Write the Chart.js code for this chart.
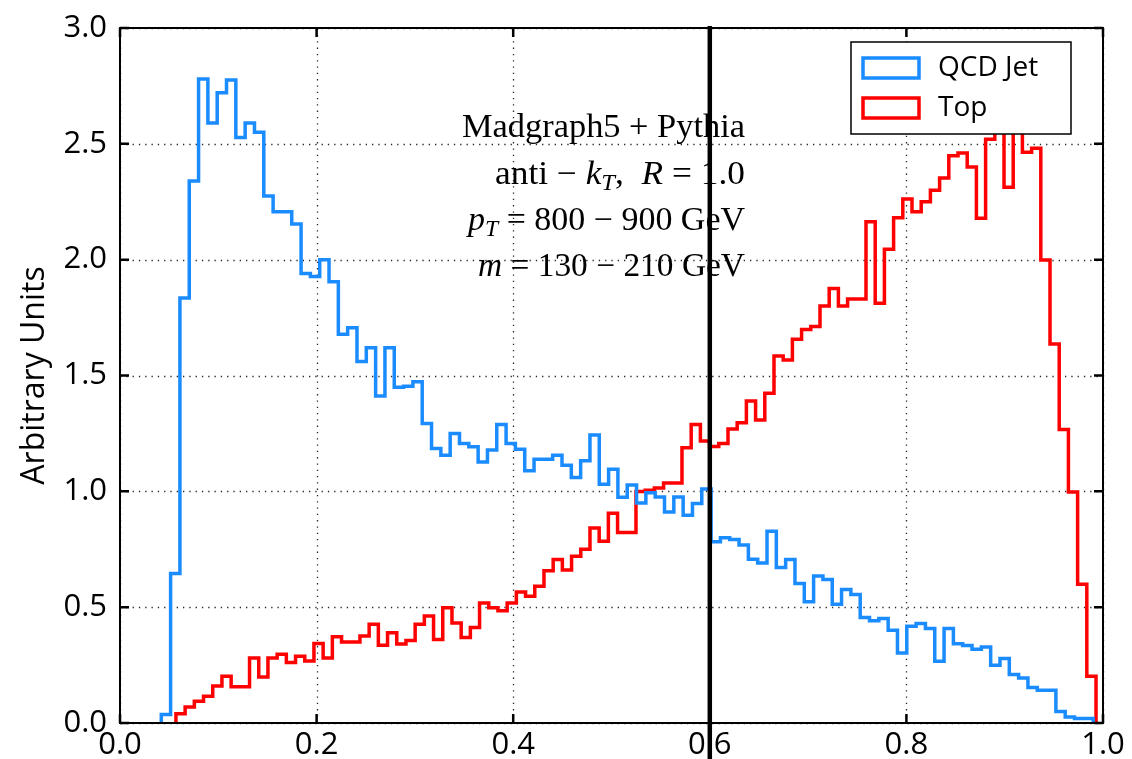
<!DOCTYPE html>
<html><head><meta charset="utf-8">
<script src="https://cdn.jsdelivr.net/npm/chart.js@4.4.1/dist/chart.umd.min.js"></script>
<style>html,body{margin:0;padding:0;background:#fff;}canvas{display:block;}</style>
</head><body>
<canvas id="c" width="1132" height="759"></canvas>
<script>
// ---- data ----
const seriesNames = ['QCD Jet', 'Top'];
const qcdBinRange = [0.042, 0.990];   // 100 equal bins over this range
const topBinRange = [0.0569, 0.9929]; // 100 equal bins over this range
const qcdValues = [
  0.037, 0.645, 1.835, 2.34, 2.78, 2.59, 2.72, 2.776, 2.527, 2.59,
  2.55, 2.275, 2.207, 2.207, 2.154, 1.94, 1.927, 2.0, 1.905, 1.678,
  1.706, 1.56, 1.62, 1.411, 1.62, 1.449, 1.454, 1.473, 1.293, 1.185,
  1.156, 1.25, 1.207, 1.192, 1.127, 1.178, 1.289, 1.207, 1.182, 1.089,
  1.138, 1.138, 1.156, 1.113, 1.06, 1.132, 1.243, 1.031, 1.095, 0.974,
  1.027, 0.95, 0.994, 0.976, 0.911, 0.976, 0.897, 0.948, 1.01, 0.782,
  0.80, 0.792, 0.768, 0.707, 0.691, 0.828, 0.671, 0.706, 0.602, 0.523,
  0.635, 0.619, 0.513, 0.576, 0.555, 0.455, 0.441, 0.451, 0.40, 0.302,
  0.418, 0.429, 0.408, 0.267, 0.408, 0.342, 0.335, 0.318, 0.328, 0.249,
  0.278, 0.209, 0.194, 0.153, 0.141, 0.141, 0.05, 0.026, 0.019, 0.019
];
const topValues = [
  0.040, 0.069, 0.094, 0.115, 0.16, 0.202, 0.156, 0.156, 0.281, 0.199,
  0.281, 0.297, 0.261, 0.288, 0.268, 0.343, 0.281, 0.372, 0.35, 0.35,
  0.376, 0.426, 0.336, 0.39, 0.341, 0.356, 0.426, 0.462, 0.36, 0.497,
  0.432, 0.369, 0.412, 0.518, 0.498, 0.484, 0.518, 0.566, 0.547, 0.59,
  0.657, 0.706, 0.66, 0.72, 0.75, 0.842, 0.785, 0.905, 0.822, 0.822,
  0.999, 1.005, 1.014, 1.036, 1.036, 1.188, 1.288, 1.217, 1.193, 1.207,
  1.269, 1.296, 1.39, 1.308, 1.423, 1.584, 1.567, 1.656, 1.699, 1.711,
  1.80, 1.876, 1.80, 1.83, 1.83, 2.164, 1.812, 2.045, 2.181, 2.262,
  2.207, 2.25, 2.30, 2.352, 2.449, 2.46, 2.40, 2.179, 2.52, 2.58,
  2.313, 2.58, 2.464, 2.481, 1.999, 1.636, 1.267, 0.997, 0.599, 0.202
];
const xTickValues = [0.0, 0.2, 0.4, 0.6, 0.8, 1.0];
const yTickValues = [0.0, 0.5, 1.0, 1.5, 2.0, 2.5, 3.0];
const cutValue = 0.6;
const yAxisTitle = 'Arbitrary Units';
const annotationLines = [
  [{t: 'Madgraph5 + Pythia'}],
  [{t: 'anti − '}, {t: 'k', i: 1}, {t: 'T', i: 1, sub: 1}, {t: ',  '}, {t: 'R', i: 1}, {t: ' = 1.0'}],
  [{t: 'p', i: 1}, {t: 'T', i: 1, sub: 1}, {t: ' = 800 − 900 GeV'}],
  [{t: 'm', i: 1}, {t: ' = 130 − 210 GeV'}]
];

// ---- build step outlines from bins ----
function stepPoints(values, range) {
  const n = values.length, w = (range[1] - range[0]) / n;
  const pts = [{x: range[0], y: 0}];
  values.forEach((v, i) => pts.push({x: range[0] + i * w, y: v}));
  pts.push({x: range[1], y: 0});
  return pts;
}

const BLUE = '#1a8cff', RED = '#ff0000';
const SANS = "'Open Sans', 'DejaVu Sans', sans-serif";
const SERIF = "'Liberation Serif', 'DejaVu Serif', serif";

const decorPlugin = {
  id: 'decor',
  beforeDatasetsDraw(chart) {
    const {ctx, chartArea: {left, right, top, bottom}, scales: {x, y}} = chart;
    ctx.save();
    ctx.strokeStyle = 'rgba(0,0,0,0.85)';
    ctx.lineWidth = 1.3;
    ctx.setLineDash([1.3, 5]);
    xTickValues.forEach(v => {
      const px = Math.round(x.getPixelForValue(v)) + 0.5;
      ctx.beginPath(); ctx.moveTo(px, bottom); ctx.lineTo(px, top); ctx.stroke();
    });
    yTickValues.forEach(v => {
      const py = Math.round(y.getPixelForValue(v)) + 0.5;
      ctx.beginPath(); ctx.moveTo(left, py); ctx.lineTo(right, py); ctx.stroke();
    });
    ctx.restore();
  },
  afterDatasetsDraw(chart) {
    const {ctx, chartArea: {left, right, top, bottom}, scales: {x, y}} = chart;
    ctx.save();
    // cut line
    const cx = x.getPixelForValue(cutValue);
    ctx.strokeStyle = '#000'; ctx.lineWidth = 4.5;
    ctx.beginPath(); ctx.moveTo(cx, top - 2); ctx.lineTo(cx, chart.height); ctx.stroke();
    // frame
    ctx.lineWidth = 2;
    ctx.strokeRect(left, top, right - left, bottom - top);
    // inward ticks
    const tl = 9;
    ctx.lineWidth = 2.5;
    xTickValues.forEach(v => {
      const px = x.getPixelForValue(v);
      ctx.beginPath(); ctx.moveTo(px, bottom); ctx.lineTo(px, bottom - tl);
      ctx.moveTo(px, top); ctx.lineTo(px, top + tl); ctx.stroke();
    });
    yTickValues.forEach(v => {
      const py = y.getPixelForValue(v);
      ctx.beginPath(); ctx.moveTo(left, py); ctx.lineTo(left + tl, py);
      ctx.moveTo(right, py); ctx.lineTo(right - tl, py); ctx.stroke();
    });
    // annotation (right aligned, fitted to the reference line widths)
    const fs = 33, rightX = 745, baselines = [137, 184, 230, 276], widths = [283, 250, 277, 267];
    ctx.fillStyle = '#000'; ctx.textBaseline = 'alphabetic'; ctx.textAlign = 'left';
    const fontFor = s => (s.i ? 'italic ' : '') + (s.sub ? Math.round(fs * 0.7) : fs) + 'px ' + SERIF;
    annotationLines.forEach((segs, li) => {
      let total = 0;
      segs.forEach(s => { ctx.font = fontFor(s); total += ctx.measureText(s.t).width; });
      const k = widths[li] / total;
      ctx.save();
      ctx.translate(rightX - widths[li], baselines[li]);
      ctx.scale(k, 1);
      let xx = 0;
      segs.forEach(s => {
        ctx.font = fontFor(s);
        ctx.fillText(s.t, xx, s.sub ? 6 : 0);
        xx += ctx.measureText(s.t).width;
      });
      ctx.restore();
    });
    // legend
    const lx = 851, ly = 42, lw = 220, lh = 92;
    ctx.fillStyle = '#fff';
    ctx.fillRect(lx, ly, lw, lh);
    ctx.strokeStyle = '#000'; ctx.lineWidth = 1.5;
    ctx.strokeRect(lx, ly, lw, lh);
    chart.data.datasets.forEach((ds, i) => {
      const cy = 68 + i * 40;
      ctx.strokeStyle = ds.borderColor; ctx.lineWidth = 3.5;
      ctx.strokeRect(863, cy - 10, 56, 20);
      ctx.fillStyle = '#000'; ctx.font = '28px ' + SANS; ctx.textBaseline = 'middle';
      ctx.fillText(ds.label, 938, cy);
    });
    ctx.restore();
  }
};

new Chart(document.getElementById('c'), {
  type: 'line',
  data: {
    datasets: [
      {label: seriesNames[0], data: stepPoints(qcdValues, qcdBinRange), borderColor: BLUE},
      {label: seriesNames[1], data: stepPoints(topValues, topBinRange), borderColor: RED}
    ].map(d => Object.assign(d, {borderWidth: 3.5, pointRadius: 0, stepped: true, fill: false, tension: 0, borderJoinStyle: 'miter'}))
  },
  options: {
    responsive: false, animation: false, devicePixelRatio: 1,
    layout: {padding: {left: 0, right: 29, top: 28, bottom: 0}},
    plugins: {legend: {display: false}, tooltip: {enabled: false}},
    scales: {
      x: {
        type: 'linear', min: 0, max: 1,
        afterBuildTicks: s => { s.ticks = xTickValues.map(v => ({value: v})); },
        afterFit: s => { s.height = 36; },
        ticks: {callback: v => v.toFixed(1), color: '#000', font: {family: SANS, size: 31}, padding: -4, maxRotation: 0, autoSkip: false},
        grid: {display: false}, border: {display: false}
      },
      y: {
        min: 0, max: 3,
        afterBuildTicks: s => { s.ticks = yTickValues.map(v => ({value: v})); },
        afterFit: s => { s.width = 120; },
        ticks: {callback: v => v.toFixed(1), color: '#000', font: {family: SANS, size: 31}, padding: 5, autoSkip: false},
        title: {display: true, text: yAxisTitle, color: '#000', font: {family: SANS, size: 32}, padding: {top: 16, bottom: 0}},
        grid: {display: false}, border: {display: false}
      }
    }
  },
  plugins: [decorPlugin]
});
</script>
</body></html>
